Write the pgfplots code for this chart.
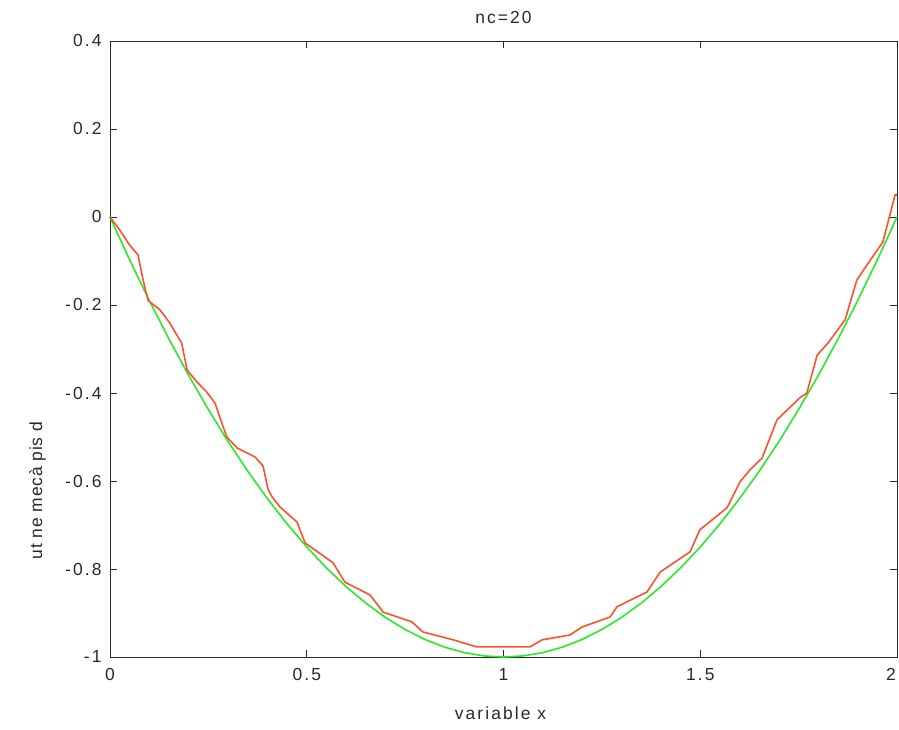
\documentclass[border=0pt]{standalone}
\usepackage{pgfplots}
\pgfplotsset{compat=1.18}
\usepackage{fontspec}
\setmainfont{Liberation Sans}
\newfontfamily\mfont[LetterSpace=12]{Liberation Sans}
\newfontfamily\lfont[LetterSpace=5]{Liberation Sans}
\definecolor{redline}{RGB}{255,80,45}
\definecolor{greenline}{RGB}{40,235,40}
\definecolor{axgray}{RGB}{40,40,40}
\begin{document}
\begin{tikzpicture}
\useasboundingbox (-110bp,-73bp) rectangle (789bp,657bp);
\begin{axis}[
  at={(0,0)}, anchor=south west,
  scale only axis, width=787bp, height=616bp,
  xmin=0, xmax=2, ymin=-1, ymax=0.4,
  xtick={0,0.5,1,1.5,2},
  xticklabels={0,0.5,1,1.5,\hspace*{-12bp}2},
  ytick={-1,-0.8,-0.6,-0.4,-0.2,0,0.2,0.4},
  yticklabels={-1,-0.8,-0.6,-0.4,-0.2,0,0.2,0.4},
  tick align=inside, tick pos=both,
  major tick length=7bp,
  axis line style={axgray, line width=0.9pt},
  every tick/.style={axgray, line width=0.9pt},
  tick label style={font=\mfont\fontsize{17.5}{20}\selectfont, text=axgray},
  yticklabel style={xshift=-5bp},
  xticklabel style={yshift=-8bp},
  title={nc=20},
  title style={font=\mfont\fontsize{17.5}{20}\selectfont, text=axgray, at={(0.5,1)}, anchor=south, yshift=8bp},
  xlabel={variable x},
  xlabel style={font=\mfont\fontsize{17.5}{20}\selectfont, text=axgray, at={(rel axis cs:0.5,0)}, anchor=center, yshift=-56bp, xshift=-3bp},
  ylabel={ut ne mecà pis d},
  ylabel style={font=\lfont\fontsize{17.5}{20}\selectfont, text=axgray, at={(rel axis cs:-0.092,0.27)}, anchor=center},
  clip=false,
]
\addplot[greenline, line width=1.6pt] coordinates {
(0,0) (0.05,-0.0975) (0.1,-0.19) (0.15,-0.2775) (0.2,-0.36) (0.25,-0.4375)
(0.3,-0.51) (0.35,-0.5775) (0.4,-0.64) (0.45,-0.6975) (0.5,-0.75)
(0.55,-0.7975) (0.6,-0.84) (0.65,-0.8775) (0.7,-0.91) (0.75,-0.9375)
(0.8,-0.96) (0.85,-0.9775) (0.9,-0.99) (0.95,-0.9975) (1,-1)
(1.05,-0.9975) (1.1,-0.99) (1.15,-0.9775) (1.2,-0.96) (1.25,-0.9375)
(1.3,-0.91) (1.35,-0.8775) (1.4,-0.84) (1.45,-0.7975) (1.5,-0.75)
(1.55,-0.6975) (1.6,-0.64) (1.65,-0.5775) (1.7,-0.51) (1.75,-0.4375)
(1.8,-0.36) (1.85,-0.2775) (1.9,-0.19) (1.95,-0.0975) (2,0)
};
\addplot[redline, line width=1.6pt] coordinates {
(0,0) (0.025,-0.03) (0.05,-0.064) (0.071,-0.086) (0.084,-0.143) (0.097,-0.19)
(0.127,-0.211) (0.152,-0.241) (0.173,-0.273) (0.182,-0.286) (0.196,-0.348)
(0.221,-0.375) (0.246,-0.398) (0.267,-0.423) (0.284,-0.468) (0.297,-0.5)
(0.323,-0.525) (0.368,-0.545) (0.389,-0.566) (0.402,-0.62) (0.412,-0.636)
(0.432,-0.659) (0.475,-0.693) (0.496,-0.741) (0.567,-0.786) (0.597,-0.83)
(0.661,-0.859) (0.694,-0.898) (0.767,-0.92) (0.795,-0.943) (0.872,-0.961)
(0.932,-0.977) (1.067,-0.977) (1.098,-0.961) (1.169,-0.95) (1.199,-0.932)
(1.271,-0.909) (1.288,-0.886) (1.365,-0.852) (1.398,-0.807) (1.474,-0.761)
(1.499,-0.711) (1.568,-0.661) (1.601,-0.602) (1.626,-0.575) (1.657,-0.548)
(1.695,-0.461) (1.753,-0.411) (1.771,-0.4) (1.797,-0.314) (1.825,-0.286)
(1.868,-0.234) (1.898,-0.143) (1.936,-0.093) (1.964,-0.057) (1.982,0.005)
(1.995,0.05) (2,0.05)
};
\end{axis}
\end{tikzpicture}
\end{document}
